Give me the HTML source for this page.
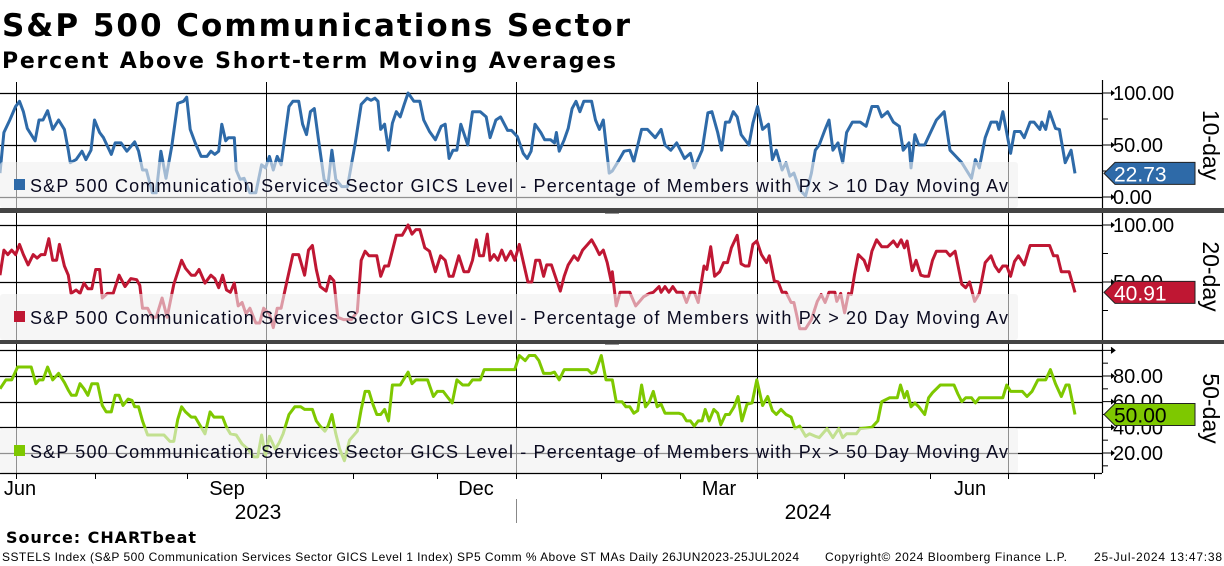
<!DOCTYPE html>
<html><head><meta charset="utf-8"><style>
html,body{margin:0;padding:0;background:#fff;}
svg{display:block;}
</style></head><body>
<svg id="chart" width="1224" height="566" viewBox="0 0 1224 566" xmlns="http://www.w3.org/2000/svg">
<text x="2" y="36" font-family="DejaVu Sans, sans-serif" font-weight="bold" font-size="31" textLength="628" fill="#000">S&amp;P 500 Communications Sector</text>
<text x="2" y="68" font-family="DejaVu Sans, sans-serif" font-weight="bold" font-size="22" textLength="614" fill="#000">Percent Above Short-term Moving Averages</text>
<g id="plot"></g>
<text x="6" y="543" font-family="DejaVu Sans, sans-serif" font-weight="bold" font-size="16" textLength="190" fill="#000">Source: CHARTbeat</text>
<text x="2" y="561" font-family="Liberation Sans, sans-serif" font-size="12" textLength="797" fill="#000">SSTELS Index (S&amp;P 500 Communication Services Sector GICS Level 1 Index) SP5 Comm % Above ST MAs  Daily 26JUN2023-25JUL2024</text>
<text x="825" y="561" font-family="Liberation Sans, sans-serif" font-size="12" textLength="242" fill="#000">Copyright© 2024 Bloomberg Finance L.P.</text>
<text x="1094" y="561" font-family="Liberation Sans, sans-serif" font-size="12" textLength="128" fill="#000">25-Jul-2024 13:47:38</text>
</svg>
<script>
const NS='http://www.w3.org/2000/svg';
// x-values are session indices (0 = 26 Jun 2023, 275.3 = 25 Jul 2024)
const tenDay=[[0,23],[1,62],[2.5,74],[4,87],[5,92],[6,82],[7,66],[9,54],[10,74],[11,74],[12.2,83],[13.5,65],[15,74],[16.5,65],[17.5,45],[18,33],[19.5,36],[21,44],[22,36],[23.3,45],[24.2,74],[25.5,62],[26.5,57],[28.5,41],[29.5,52],[31,52],[32.5,44],[34.5,53],[35.5,44],[36.5,26],[37.5,26],[39,4],[40,4],[41.2,44],[42.5,18],[44,49],[45.5,90],[47,92],[47.8,96],[48.7,65],[50,52],[51.5,39],[53,39],[54,44],[55,41],[56,44],[56.8,70],[57.8,54],[58.5,57],[60,57],[60.5,26],[61.5,17],[62.5,18],[64,4],[65.5,4],[67,31],[68,28],[69,39],[70,26],[71,39],[72,31],[74,87],[75,92],[76.5,92],[77.5,70],[78.5,60],[79.5,82],[80.5,85],[81.5,57],[83,17],[84,12],[85,45],[86,17],[87.5,10],[89,10],[91,52],[92.5,89],[94,95],[95,93],[96,95],[96.8,92],[97.5,65],[98.5,70],[99.5,45],[100.5,71],[101.5,82],[102.5,77],[103.5,89],[104.5,100],[106,92],[107.5,92],[108.5,74],[110,63],[111.5,55],[113,68],[114,70],[115,37],[116,45],[117,45],[118,70],[119.8,50],[121,82],[123,82],[124.5,77],[125.5,57],[127,74],[128.2,77],[130,64],[131,64],[132.5,58],[134,42],[135,37],[136,44],[137,70],[138.5,62],[139.5,55],[141,55],[142,52],[142.5,62],[143.2,44],[144.5,55],[145.5,66],[146.5,85],[147.5,92],[148.5,82],[149.5,92],[151.5,92],[152.5,74],[153.5,65],[154.5,74],[156,23],
[156.8,25],[158.3,34],[159.8,44],[161.3,45],[162.3,34],[164.3,65],[165.8,65],[167.8,57],[169.3,65],[170.3,50],[171.8,45],[173.3,52],[175.3,37],[176.8,42],[177.8,28],[179.8,45],[181.3,81],[182.3,82],[183.8,62],[184.8,45],[185.8,72],[186.8,72],[187.8,82],[188.8,77],[189.8,60],[191.8,50],[192.8,71],[194,87],[195.3,65],[196.8,70],[197.8,36],[198.8,45],[200.3,26],[201.3,33],[202.3,20],[203.3,23],[204.8,7],[206.3,1],[207.8,23],[208.8,45],[209.8,50],[211.3,65],[212.3,74],[213.3,45],[214.6,52],[215.8,33],[216.8,62],[218.3,72],[220.3,72],[221.8,68],[223.3,87],[224.8,87],[225.8,77],[227.3,82],[228.8,72],[230.3,68],[231.3,45],[232.8,52],[233.3,28],[234.3,60],[235.3,50],[236.8,50],[238.3,62],[239.8,74],[241.8,82],[243.3,45],[244.8,39],[246.3,33],[248.8,18],[249.8,36],[250.8,28],[252.3,57],[253.8,72],[255.3,72],[255.8,65],[256.8,82],[257.8,62],[258.8,42],[259.8,63],[261.3,63],[262.3,57],[263.8,72],[264.8,72],[266.3,65],[266.8,72],[267.8,65],[268.8,82],[270.3,66],[271.3,65],[272.8,33],[274.3,45],[275.3,22.73]];
const twentyDay=[[0,56],[1,78],[2,74],[3,78],[4,74],[5,83],[6,74],[7.2,65],[8.5,74],[9.5,71],[10.5,74],[11.5,74],[12.5,88],[13.5,69],[14.5,69],[15.2,83],[16.5,64],[17.5,56],[18.2,40],[19.5,43],[20.5,40],[21.5,49],[22.5,44],[23.5,44],[24.5,61],[25.5,61],[26.2,36],[27.5,40],[29,40],[30.5,56],[32,46],[33.5,53],[35,52],[35.8,47],[36.5,27],[37.8,27],[39,19],[40,19],[41.5,36],[42.8,19],[44.5,48],[46.5,69],[47.5,62],[49,56],[50,56],[51,61],[52.5,49],[54,56],[55,53],[56,45],[57,56],[58,43],[59,41],[60,49],[61,29],[62,32],[63,22],[64,27],[65.5,14],[66.5,14],[67.5,27],[69,22],[70,10],[71,27],[72,27],[73.5,51],[75,74],[76.5,74],[78,56],[79,78],[80,82],[81,61],[82,46],[83.5,42],[84.5,55],[85.5,51],[86.5,19],[88,17],[90,17],[91.5,24],[92.5,69],[93.5,77],[94.5,73],[96.5,73],[97.5,55],[98.5,64],[99.5,64],[101.5,91],[103,91],[104.5,100],[105.5,92],[106.5,96],[107.5,96],[108.8,80],[110,77],[111.5,59],[112.8,73],[114,69],[115,55],[116,55],[117.5,73],[118.8,59],[120,59],[121,69],[122,87],[122.8,73],[123.8,73],[124.8,92],[125.5,69],[126.5,74],[127.5,69],[128.5,78],[129.5,69],[130.8,77],[131.8,69],[133,83],[134,68],[135.2,50],[136.2,50],[137.2,69],[138.2,69],[139.2,55],[140,65],[141.2,65],[142.5,52],[143.5,42],[144.5,55],[145.5,65],[147,73],[148,69],[149.2,78],[150.5,83],[151.5,87],[152.5,81],[153.5,74],[154.5,78],[155.5,67],[156.5,51],
[156.8,59],[157.8,29],[158.8,41],[161.3,41],[162.8,29],[163.8,33],[164.8,37],[166.3,40],[167.3,41],[168.8,46],[169.3,41],[170.3,46],[171.3,41],[172.3,46],[173.3,41],[174.8,41],[175.8,32],[176.8,41],[177.8,41],[178.8,32],[180.3,64],[181,61],[182,81],[183,55],[184.3,59],[185.3,67],[186.3,67],[187.3,80],[188.8,91],[189.8,66],[190.8,64],[191.8,64],[192.8,83],[193.8,86],[195,74],[196.3,67],[197,73],[198.3,51],[199.3,50],[200.3,41],[201.3,41],[202.6,32],[203.3,32],[204.8,9],[206.3,9],[207.8,17],[209.3,33],[210.3,39],[211.3,32],[212.3,41],[213.8,41],[214.3,33],[215.3,40],[216.3,23],[217.3,40],[218,39],[218.8,56],[219.8,74],[221.3,69],[222.3,60],[223.3,77],[224.5,87],[225.8,81],[227.3,81],[228.8,86],[229.8,81],[230.8,87],[231.6,80],[232.3,86],[233.6,60],[234.6,69],[235.8,56],[236.8,55],[237.8,55],[238.8,69],[239.8,77],[242.3,77],[243.3,73],[244.6,77],[246.3,48],[247.3,45],[248.3,50],[249.6,33],[250.8,40],[252.3,67],[253.8,73],[254.8,64],[255.8,59],[256.8,64],[257.8,64],[258.8,55],[259.8,68],[260.8,73],[262.3,65],[263.8,82],[265.8,82],[268.8,82],[269.8,73],[270.8,73],[271.8,59],[273.8,59],[275.3,40.91]];
const fiftyDay=[[0,70],[1.5,77],[3,77],[4.5,87],[6,87],[8,87],[9.2,74],[10,77],[11,77],[12.2,87],[13.5,77],[15,82],[16.5,75],[17.5,69],[18.3,65],[19.5,65],[20.5,74],[21.5,70],[22.5,65],[23.5,74],[25,74],[26.2,57],[27.2,52],[28.5,52],[29.5,65],[30.5,65],[31.5,57],[32.8,62],[33.8,61],[34.5,56],[35.5,56],[36.5,45],[37.8,34],[39.5,34],[42,34],[43.5,29],[44.5,29],[45.5,46],[46.5,56],[47.5,52],[49,48],[50,48],[51.5,40],[52.5,35],[53.8,52],[54.8,48],[57,48],[58,40],[59,35],[60.5,34],[62,27],[63.5,23],[65,17],[66,17],[67,34],[68,18],[69,33],[70.5,23],[71.5,28],[72.5,35],[74,50],[75.5,56],[77,56],[78,54],[80,54],[81,45],[82,41],[83.2,37],[84,41],[85,50],[86,35],[87,23],[88.2,14],[89.5,30],[91.5,37],[92.5,54],[93.5,68],[94.5,68],[95.5,58],[96.5,50],[97.5,50],[98.5,54],[99.5,45],[100.5,73],[102.5,73],[104.5,83],[105.5,74],[106.5,77],[109.5,77],[111,64],[112,68],[113.5,68],[114.5,64],[115.8,59],[117,77],[118.5,73],[120,73],[121,77],[123,77],[124,85],[126,85],[131.8,85],[133,96],[134.5,92],[135.5,96],[137,96],[138,92],[139.2,82],[141,82],[142,83],[143.2,77],[144.5,85],[146.5,85],[150.5,85],[151.5,82],[152.5,83],[154,96],[155.2,77],[156.5,77],
[156.8,77],[157.8,60],[159.3,60],[160.3,56],[161.3,56],[162.3,51],[163.3,53],[164.3,73],[165.3,56],[166.3,60],[167.3,68],[168.3,56],[169.3,58],[170.3,51],[171.8,51],[173.8,51],[174.8,50],[175.8,45],[176.8,45],[177.8,41],[178.8,45],[179.8,45],[180.6,54],[181.6,45],[182.8,54],[183.8,51],[184.6,42],[185.8,50],[186.8,50],[188,56],[189,64],[190,45],[191.3,58],[192.6,59],[193.8,77],[195.3,57],[196.6,64],[197.8,53],[198.8,50],[200,54],[201.3,50],[202.6,48],[203.6,39],[204.8,41],[206.3,33],[207.3,35],[208.8,33],[209.8,32],[211.8,39],[213.3,32],[214.8,39],[215.8,32],[216.8,35],[218.3,35],[219.3,35],[220.3,39],[223.3,40],[224.8,45],[225.8,60],[227.8,63],[229.8,63],[230.6,73],[231.6,63],[232.3,68],[233.3,56],[234.3,59],[235.3,56],[236.8,50],[237.8,63],[238.8,67],[240.8,73],[242.8,73],[244.3,73],[245.3,66],[246.3,60],[247.3,63],[248.8,63],[249.8,59],[250.8,63],[256.8,63],[257.8,73],[258.8,68],[261.8,68],[263,64],[264.3,68],[265.8,77],[267.8,77],[269,85],[270.3,74],[271.8,64],[273,73],[273.8,73],[275.3,50]];
const rightTicks10=[0,50,100];
const rightTicks20=[50,100];
const rightTicks50=[20,40,60,80];
const monthLabels=['Jun','Sep','Dec','Mar','Jun'];
const yearLabels=['2023','2024'];
const legendTexts=['S&P 500 Communication Services Sector GICS Level - Percentage of Members with Px > 10 Day Moving Av','S&P 500 Communication Services Sector GICS Level - Percentage of Members with Px > 20 Day Moving Av','S&P 500 Communication Services Sector GICS Level - Percentage of Members with Px > 50 Day Moving Av'];

const plot=document.getElementById('plot');
const X0=0,X1=1075,DMAX=275.3,AXX=1102;
const xs=d=>X0+(X1-X0)*d/DMAX;
function mk(tag,attrs,parent){const e=document.createElementNS(NS,tag);for(const k in attrs)e.setAttribute(k,attrs[k]);(parent||plot).appendChild(e);return e;}

const panels=[
 {data:tenDay,color:'#2e6aa8',light:'#97b4d3',top:82,bot:208,v0:0,v1:100,y0:197,y1:93,ticks:rightTicks10,minor:[25,75],title:'10-day',legY:162,tagTxt:'#fff',name:'ten-day'},
 {data:twentyDay,color:'#bf1733',light:'#dc8c99',top:213,bot:340,v0:0,v1:100,y0:339,y1:225,ticks:rightTicks20,minor:[25,75],title:'20-day',legY:294,tagTxt:'#fff',name:'twenty-day'},
 {data:fiftyDay,color:'#7ec800',light:'#bfe380',top:344,bot:473,v0:20,v1:80,y0:453,y1:376,ticks:rightTicks50,minor:[30,50,70,90,10],title:'50-day',legY:428,tagTxt:'#000',name:'fifty-day'}
];
const vlines=[16,266,516,757,1008];
panels.forEach((p,pi)=>{
 const ys=v=>p.y0+(v-p.v0)*(p.y1-p.y0)/(p.v1-p.v0);
 const g=mk('g',{});
 
 
 // horizontal gridlines
 const gridVals=pi===2?[20,40,60,80,100]:p.ticks.concat(pi===1?[]:[]);
 gridVals.forEach(v=>{const y=Math.round(ys(v))+0.5;if(y<p.top||y>p.bot)return;
  const l=mk('line',{x1:0,x2:AXX,y1:y,y2:y,stroke:'#000','stroke-width':1.2},g);
  
  });
 vlines.forEach(x=>{const l=mk('line',{x1:x+0.5,x2:x+0.5,y1:p.top,y2:p.bot,stroke:'#000','stroke-width':1},g);
  
  });
 // series
 const d=p.data.map((pt,i)=>(i?'L':'M')+xs(pt[0]).toFixed(1)+','+ys(pt[1]).toFixed(1)).join(' ');
 const path=mk('path',{d:d,fill:'none',stroke:p.color,'stroke-width':3,'stroke-linejoin':'round'},g);
 
 
 // legend
 const lg=mk('g',{},g);
 
 
 mk('rect',{x:0,y:p.legY,width:1018,height:p.bot-p.legY,rx:3,fill:'#f0f0f0','fill-opacity':0.6},lg);
 mk('rect',{x:14,y:p.legY+17,width:11,height:11,fill:p.color},lg);
 const t=mk('text',{x:30,y:p.legY+30,'font-family':'Liberation Sans, sans-serif','font-size':18,fill:'#0a0a20',textLength:978},lg);
 t.textContent=legendTexts[pi];
 // right axis
 const ax=mk('line',{x1:AXX+0.5,x2:AXX+0.5,y1:p.top-2,y2:p.bot,stroke:'#000','stroke-width':1.2},g);
 
 
 p.minor.forEach(v=>{const y=ys(v);if(y<p.top||y>p.bot)return;mk('line',{x1:AXX,x2:AXX+6,y1:y,y2:y,stroke:'#000'},g);});
 p.ticks.forEach(v=>{const y=ys(v);
  mk('path',{d:`M${AXX},${y-0.5} L${AXX+9},${y-0.5} L${AXX+9},${y-3} L${AXX+13},${y} L${AXX+9},${y+3} L${AXX+9},${y+0.5} L${AXX},${y+0.5}Z`,fill:'#000'},g);
  const tl=mk('text',{x:AXX+11,y:y+7,'font-family':'Liberation Sans, sans-serif','font-size':20,fill:'#000'},g);
  
  
  tl.textContent=v.toFixed(2);});
 if(pi===2){const y=ys(100);mk('path',{d:`M${AXX},${y} L${AXX+13},${y} M${AXX+9},${y-3} L${AXX+13},${y} L${AXX+9},${y+3}`,stroke:'#000',fill:'#000'},g);}
 // tag
 const last=p.data[p.data.length-1][1];
 const ty=ys(last);
 const tag=mk('g',{},g);
 
 
 mk('path',{d:`M${AXX+2},${ty} L${AXX+13},${ty-11} L1195,${ty-11} L1195,${ty+11} L${AXX+13},${ty+11}Z`,fill:p.color,stroke:'#222','stroke-width':1},tag);
 const tt=mk('text',{x:1114,y:ty+8,'font-family':'Liberation Sans, sans-serif','font-size':21,fill:p.tagTxt},tag);
 tt.textContent=last.toFixed(2);
 // title
 const cy=(p.top+p.bot)/2;
 const vt=mk('text',{x:0,y:0,transform:`translate(1203,${cy}) rotate(90)`,'text-anchor':'middle','font-family':'Liberation Sans, sans-serif','font-size':23,fill:'#000'},g);
 
 
 vt.textContent=p.title;
});
// separators
[[208,213],[340,344]].forEach(([a,b])=>{
 const s=mk('rect',{x:0,y:a,width:1224,height:b-a,fill:'#444'});
 
 
 mk('rect',{x:605,y:b,width:14,height:1,fill:'#999'});
});
// x axis
const xa=mk('line',{x1:0,x2:AXX,y1:473.5,y2:473.5,stroke:'#000','stroke-width':1.2});


const monthTicksX=[16,95,187,266,353,437,516,601,680,757,844,930,1008,1094];
monthTicksX.forEach(x=>mk('line',{x1:x+0.5,x2:x+0.5,y1:473,y2:479,stroke:'#000'}));
const monthLabelX=[20,227,476,719,970];
monthLabels.forEach((m,i)=>{const t=mk('text',{x:monthLabelX[i],y:495,'text-anchor':'middle','font-family':'Liberation Sans, sans-serif','font-size':20,fill:'#000'});
 
 
 t.textContent=m;});
const yearX=[258,808];
yearLabels.forEach((m,i)=>{const t=mk('text',{x:yearX[i],y:519,'text-anchor':'middle','font-family':'Liberation Sans, sans-serif','font-size':21,fill:'#000'});
 
 
 t.textContent=m;});
mk('line',{x1:516.5,x2:516.5,y1:499,y2:523,stroke:'#888'});
</script>
</body></html>
